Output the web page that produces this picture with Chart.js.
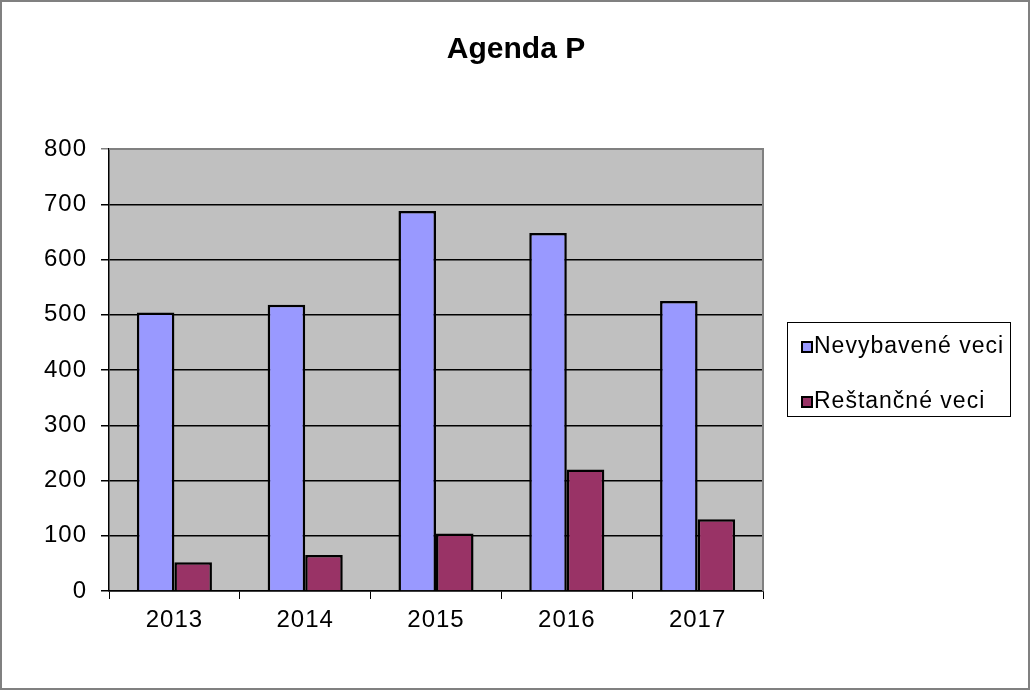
<!DOCTYPE html>
<html><head><meta charset="utf-8">
<script src="https://cdn.jsdelivr.net/npm/chart.js@4"></script>
<style>html,body{margin:0;padding:0;background:#fff}#wrap{width:1030px;height:690px}</style>
</head><body><div id="wrap"><canvas id="c" width="1030" height="690"></canvas></div>
<script>
const chartTitle = 'Agenda P';
const categories = ['2013', '2014', '2015', '2016', '2017'];
const seriesNames = ['Nevybavené veci', 'Reštančné veci'];
const nevybavene = [504, 518, 688, 648, 525];
const restancne = [52, 65, 104, 220, 130];
const yMin = 0, yMax = 800, yStep = 100;

const FONT = "'Liberation Sans', Arial, sans-serif";
const COLORS = ['#9999FF', '#993366'];

const decor = {
  id: 'decor',
  beforeDraw(chart) {
    const {ctx, chartArea: a} = chart;
    ctx.save();
    ctx.fillStyle = '#fff';
    ctx.fillRect(0, 0, chart.width, chart.height);
    ctx.fillStyle = '#C0C0C0';
    ctx.fillRect(a.left, a.top, a.right - a.left, a.bottom - a.top);
    ctx.restore();
    if ('letterSpacing' in ctx) ctx.letterSpacing = '1px';
  },
  afterDraw(chart) {
    const {ctx, chartArea: a} = chart;
    ctx.save();
    // plot border top/right
    ctx.strokeStyle = '#808080';
    ctx.lineWidth = 2;
    ctx.beginPath();
    ctx.moveTo(a.left, a.top);
    ctx.lineTo(a.right, a.top);
    ctx.lineTo(a.right, a.bottom);
    ctx.stroke();
    // title
    if ('letterSpacing' in ctx) ctx.letterSpacing = '0px';
    ctx.fillStyle = '#000';
    ctx.font = "bold 30px " + FONT;
    ctx.textAlign = 'center';
    ctx.textBaseline = 'alphabetic';
    ctx.fillText(chartTitle, 516, 58);
    // legend
    ctx.strokeStyle = '#000';
    ctx.lineWidth = 1;
    ctx.strokeRect(787.5, 322.5, 223, 94);
    if ('letterSpacing' in ctx) ctx.letterSpacing = '1px';
    ctx.font = "23px " + FONT;
    ctx.textAlign = 'left';
    const rows = [353, 408];
    chart.data.datasets.forEach((ds, i) => {
      const y = rows[i];
      ctx.fillStyle = ds.backgroundColor;
      ctx.fillRect(802, y - 11, 10, 10);
      ctx.lineWidth = 2;
      ctx.strokeRect(802, y - 11, 10, 10);
      ctx.fillStyle = '#000';
      ctx.fillText(ds.label, 814, y);
    });
    // outer frame
    ctx.strokeStyle = '#808080';
    ctx.lineWidth = 2;
    ctx.strokeRect(1, 1, chart.width - 2, chart.height - 2);
    ctx.restore();
  }
};

new Chart(document.getElementById('c'), {
  type: 'bar',
  data: {
    labels: categories,
    datasets: [
      {label: seriesNames[0], data: nevybavene, backgroundColor: COLORS[0], borderColor: '#000', borderWidth: 2.5},
      {label: seriesNames[1], data: restancne, backgroundColor: COLORS[1], borderColor: '#000', borderWidth: 2.5}
    ]
  },
  options: {
    responsive: false,
    animation: false,
    devicePixelRatio: 1,
    layout: {padding: {top: 149, right: 267, left: 0, bottom: 0}},
    datasets: {bar: {barPercentage: 1, categoryPercentage: 0.574}},
    plugins: {legend: {display: false}, title: {display: false}, tooltip: {enabled: false}},
    scales: {
      x: {
        offset: true,
        grid: {offset: true, drawOnChartArea: false, drawTicks: true, tickLength: 8, color: '#000', lineWidth: 1},
        border: {color: '#000', width: 1.5},
        ticks: {color: '#000', font: {family: FONT, size: 24}, padding: 7},
        afterFit(s) { s.height = 99; }
      },
      y: {
        min: yMin, max: yMax,
        grid: {color: ctx => ctx.tick && ctx.tick.value === yMax ? '#808080' : '#000', lineWidth: 1.5, tickLength: 8},
        border: {color: '#000', width: 1.5},
        ticks: {stepSize: yStep, color: '#000', font: {family: FONT, size: 24}, padding: 14},
        afterFit(s) { s.width = 109; }
      }
    }
  },
  plugins: [decor]
});
</script>
</body></html>
